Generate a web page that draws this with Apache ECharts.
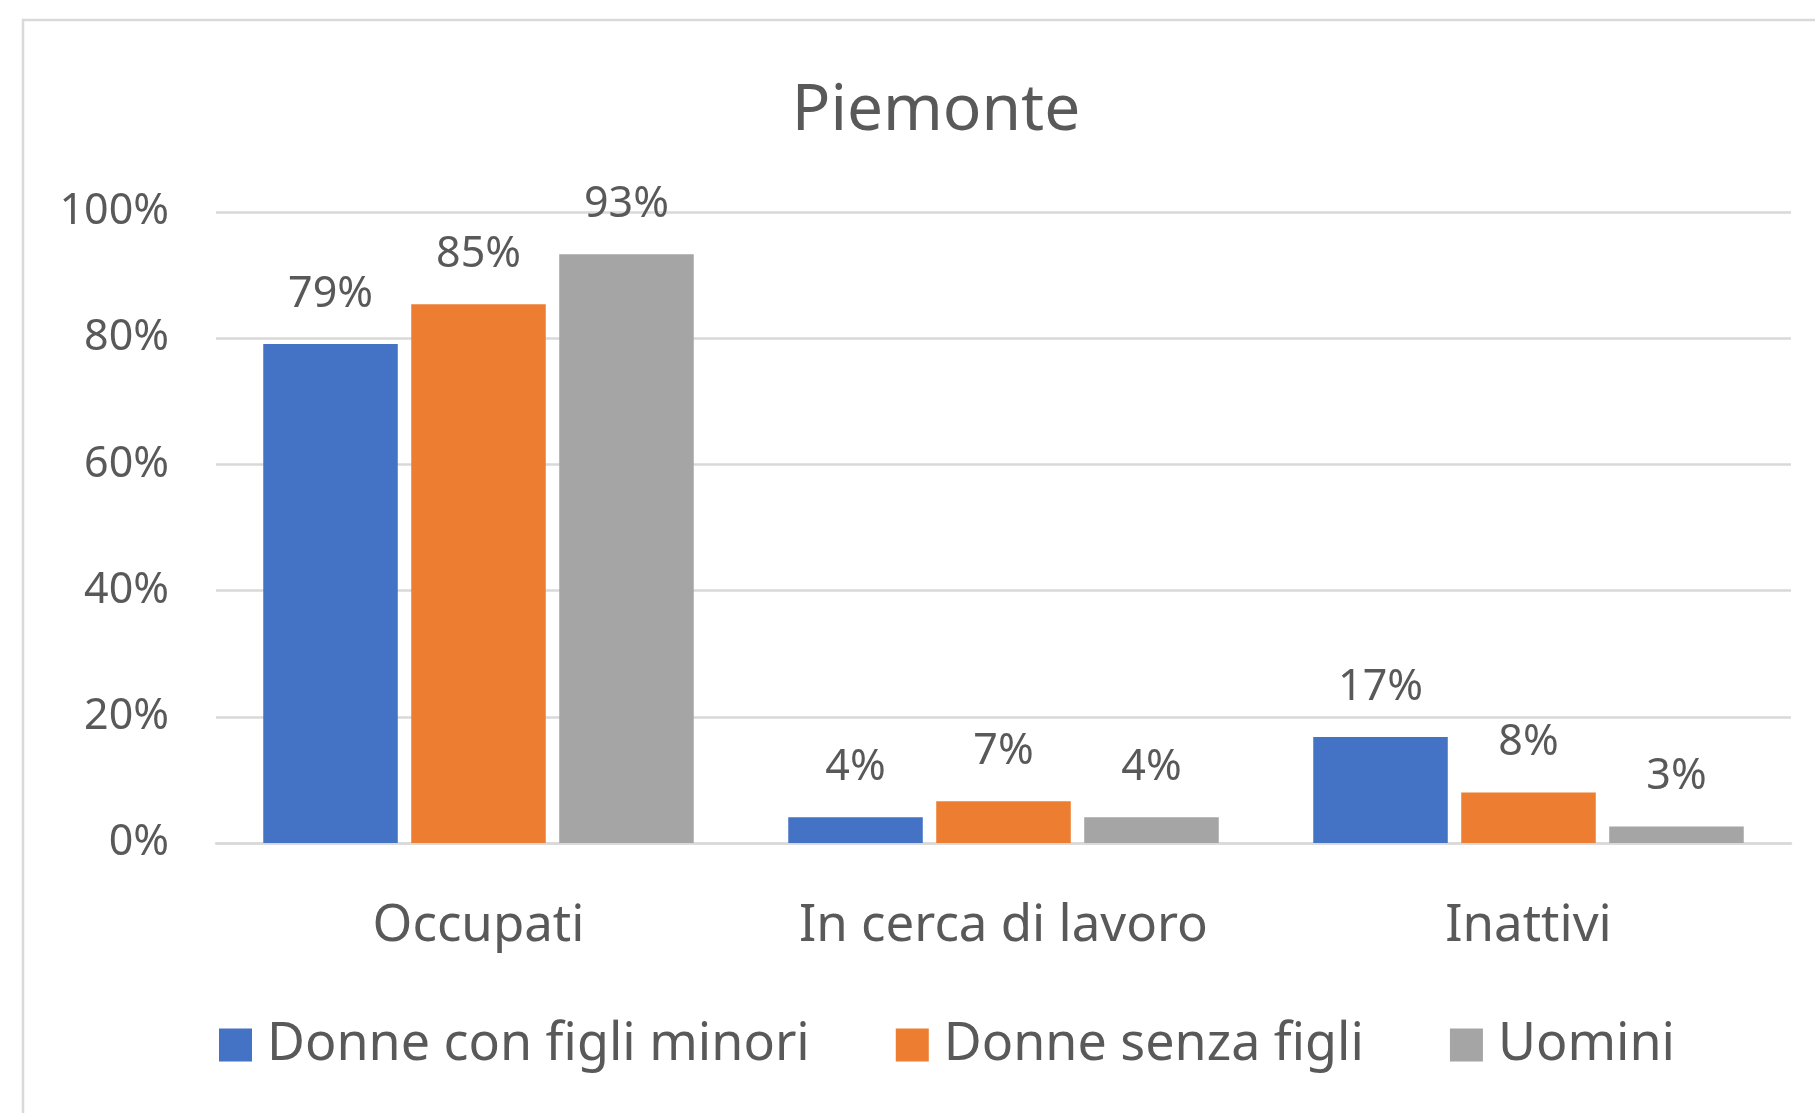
<!DOCTYPE html>
<html>
<head>
<meta charset="utf-8">
<script src="https://cdn.jsdelivr.net/npm/echarts@6/dist/echarts.min.js"></script>
<style>
html,body{margin:0;padding:0;background:#fff;}
#chart{width:1815px;height:1113px;}
</style>
</head>
<body>
<div id="chart"></div>
<script>
const titleText = 'Piemonte';
const categories = ['Occupati', 'In cerca di lavoro', 'Inattivi'];
const seriesNames = ['Donne con figli minori', 'Donne senza figli', 'Uomini'];
const donneConFigli = [79.1, 4.1, 16.8];
const donneSenzaFigli = [85.4, 6.6, 8.0];
const uomini = [93.3, 4.1, 2.6];
const yTicks = [0, 20, 40, 60, 80, 100];

const colors = ['#4472C4', '#ED7D31', '#A5A5A5'];
const textColor = '#595959';
const font = 'Noto Sans';

const chart = echarts.init(document.getElementById('chart'));
const seriesData = [donneConFigli, donneSenzaFigli, uomini];

chart.setOption({
  backgroundColor: '#ffffff',
  animation: false,
  color: colors,
  title: {
    text: titleText,
    left: 931,
    top: 75,
    textAlign: 'center',
    textStyle: { fontFamily: font, fontSize: 64, fontWeight: 'normal', color: textColor }
  },
  graphic: [{
    type: 'rect',
    shape: { x: 23, y: 20, width: 1900, height: 1200 },
    style: { fill: 'none', stroke: '#d9d9d9', lineWidth: 2.5 },
    silent: true
  }],
  legend: {
    data: seriesNames,
    left: 214,
    top: 1014,
    icon: 'rect',
    itemWidth: 33,
    itemHeight: 33,
    itemGap: 86,
    textStyle: { fontFamily: font, fontSize: 52, color: textColor, padding: [0, 0, 0, 10] }
  },
  grid: { left: 216, right: 24, top: 212, bottom: 270, containLabel: false },
  xAxis: {
    type: 'category',
    data: categories,
    axisLine: { show: true, lineStyle: { color: '#d9d9d9', width: 2.5 } },
    axisTick: { show: false },
    axisLabel: { fontFamily: font, fontSize: 51, color: textColor, margin: 58, interval: 0 }
  },
  yAxis: {
    type: 'value',
    min: yTicks[0],
    max: yTicks[yTicks.length - 1],
    interval: yTicks[1] - yTicks[0],
    axisLine: { show: false },
    axisTick: { show: false },
    splitLine: { lineStyle: { color: '#d9d9d9', width: 2.5 } },
    axisLabel: { fontFamily: font, fontSize: 43, color: textColor, margin: 47, formatter: '{value}%' }
  },
  series: seriesNames.map((name, i) => ({
    name: name,
    type: 'bar',
    data: seriesData[i],
    barGap: '10%',
    barCategoryGap: '18%',
    itemStyle: { color: colors[i] },
    label: {
      show: true,
      position: 'top',
      distance: 28,
      fontFamily: font,
      fontSize: 43,
      color: textColor,
      formatter: p => Math.round(p.value) + '%'
    }
  }))
});
</script>
</body>
</html>
